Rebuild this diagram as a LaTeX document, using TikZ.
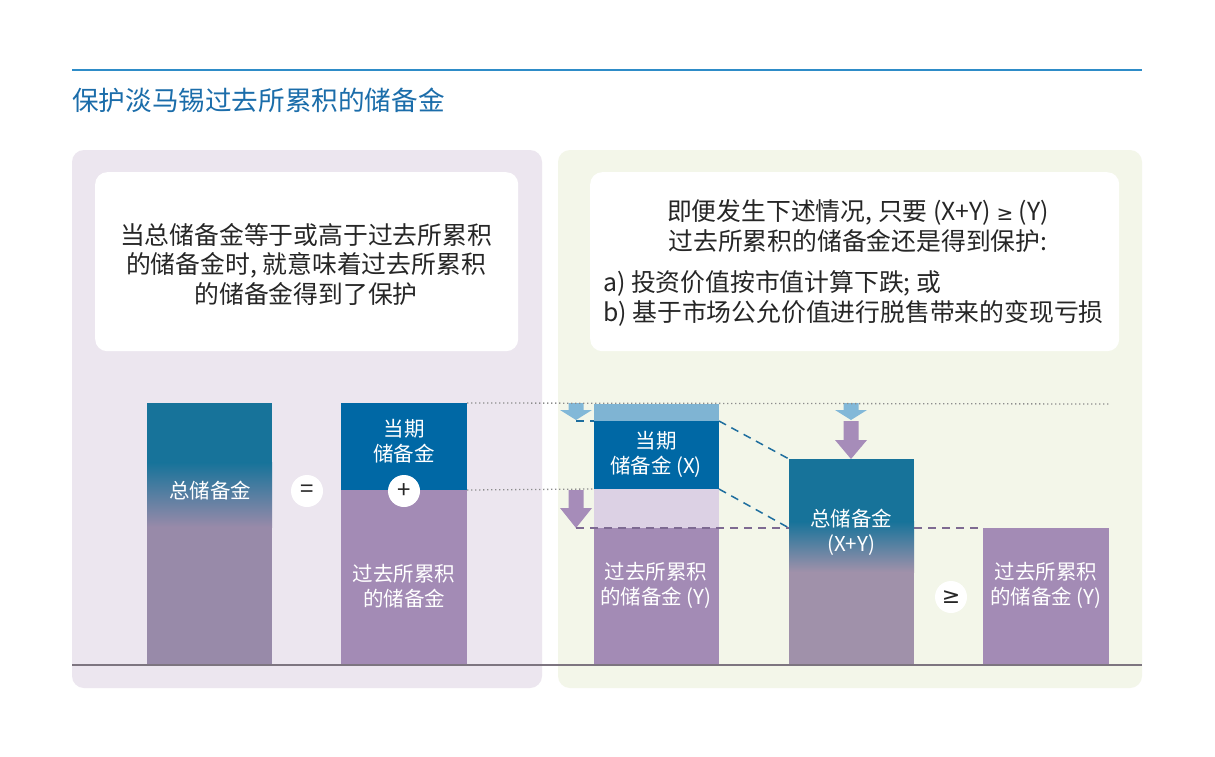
\documentclass[tikz,border=0pt]{standalone}
\usepackage{fontspec}
\setmainfont{Noto Sans CJK SC}
\newfontfamily\geqfont{DejaVu Sans}
\definecolor{leftpanel}{HTML}{ECE6EF}
\definecolor{rightpanel}{HTML}{F3F6E9}
\definecolor{barblue}{HTML}{0068A5}
\definecolor{tealc}{HTML}{17739A}
\definecolor{barpurple}{HTML}{A38BB5}
\definecolor{pgrayA}{HTML}{988AA9}
\definecolor{pgrayB}{HTML}{A091AA}
\definecolor{lightblue}{HTML}{7FB4D3}
\definecolor{lightpurple}{HTML}{DCD1E4}
\definecolor{arrowblue}{HTML}{82B8D8}
\definecolor{arrowpurple}{HTML}{A68CB9}
\definecolor{dashblue}{HTML}{1E6E9E}
\definecolor{dashpurple}{HTML}{7E6A92}
\definecolor{dotgray}{HTML}{8C8C8C}
\definecolor{titleblue}{HTML}{1B6DAA}
\definecolor{rulecol}{HTML}{2E8CC8}
\definecolor{basecol}{HTML}{7D7580}
\newcommand\blockarrowdraw[5]{%
  \fill[#5] (#1-7.5,#2) -- (#1+7.5,#2) -- (#1+7.5,#3) -- (#1+16,#3) -- (#1,#4)
    -- (#1-16,#3) -- (#1-7.5,#3) -- cycle;}
\begin{document}
\begin{tikzpicture}[x=1pt,y=-1pt,
  bar/.style={rectangle, inner sep=0pt, outer sep=0pt, draw=none, anchor=north west},
  tbox/.style={rectangle, fill=white, rounded corners=12pt, inner sep=0pt, anchor=north west},
  lbl/.style={text=white, font=\fontsize{20.5}{25}\selectfont, align=center, inner sep=0pt},
  boxtext/.style={text=black!85, font=\fontsize{24.8}{29.5}\selectfont, inner sep=0pt},
  circ/.style={circle, fill=white, minimum size=32pt, inner sep=0pt, text=black!85,
    font=\fontsize{24}{24}\selectfont},
  dotl/.style={draw=dotgray, line width=1.3pt, dash pattern=on 1.3pt off 2.7pt},
  dashb/.style={draw=dashblue, line width=1.5pt, dash pattern=on 8pt off 6pt},
  dashp/.style={draw=dashpurple, line width=1.8pt, dash pattern=on 8pt off 6pt}]
\useasboundingbox (0,0) rectangle (1215,757);
\fill[white] (0,0) rectangle (1215,757);

% title and rule
\draw[rulecol, line width=1.3pt] (72,70) -- (1142,70);
\node[anchor=west, inner sep=0pt, text=titleblue, font=\fontsize{26.6}{30}\selectfont] (title) at (72,100) {保护淡马锡过去所累积的储备金};

% panels
\fill[leftpanel, rounded corners=12pt] (72,150) rectangle (542,688);
\fill[rightpanel, rounded corners=12pt] (558,150) rectangle (1142,688);

% text boxes
\node[tbox, minimum width=423pt, minimum height=179pt] (lbox) at (95,172) {};
\node[tbox, minimum width=529pt, minimum height=179pt] (rbox) at (590,172) {};
\node[boxtext, align=center] (ltext) at (306,264) {当总储备金等于或高于过去所累积\\的储备金时, 就意味着过去所累积\\的储备金得到了保护};
\node[boxtext, align=center, font=\fontsize{24.8}{30}\selectfont] (rtextA) at (858,226) {即便发生下述情况, 只要 (X+Y) {\geqfont\fontsize{20}{20}\selectfont ≥} (Y)\\过去所累积的储备金还是得到保护:};
\node[boxtext, align=left, anchor=west, font=\fontsize{24.8}{30}\selectfont] (rtextB) at (603,298) {a) 投资价值按市值计算下跌; 或\\b) 基于市场公允价值进行脱售带来的变现亏损};

% bar 1 (total)
\node[bar, fill=pgrayA, minimum width=125pt, minimum height=262pt] (b1) at (147,403) {};
\fill[tealc] (147,403) rectangle (272,463);
\shade[top color=tealc, bottom color=pgrayA] (147,462.5) rectangle (272,527);
\node[lbl] (b1t) at (210,491) {总储备金};

% bar 2
\node[bar, fill=barblue, minimum width=126pt, minimum height=87pt] (b2a) at (341,403) {};
\node[bar, fill=barpurple, minimum width=126pt, minimum height=175pt] (b2b) at (341,490) {};
\node[lbl] (b2at) at (404,441) {当期\\储备金};
\node[lbl] (b2bt) at (404,586) {过去所累积\\的储备金};

% bar 3
\node[bar, fill=lightblue, minimum width=125pt, minimum height=17pt] (b3a) at (594,404) {};
\node[bar, fill=barblue, minimum width=125pt, minimum height=68pt] (b3b) at (594,421) {};
\node[bar, fill=lightpurple, minimum width=125pt, minimum height=39pt] (b3c) at (594,489) {};
\node[bar, fill=barpurple, minimum width=125pt, minimum height=137pt] (b3d) at (594,528) {};
\node[lbl] (b3bt) at (656,454) {当期\\储备金 (X)};
\node[lbl] (b3dt) at (656,585) {过去所累积\\的储备金 (Y)};

% bar 4 (total X+Y)
\node[bar, fill=pgrayB, minimum width=125pt, minimum height=206pt] (b4) at (789,459) {};
\fill[tealc] (789,459) rectangle (914,522);
\shade[top color=tealc, bottom color=pgrayB] (789,521.5) rectangle (914,572);
\node[lbl] (b4t) at (851,532) {总储备金\\(X+Y)};

% bar 5
\node[bar, fill=barpurple, minimum width=126pt, minimum height=137pt] (b5) at (983,528) {};
\node[lbl] (b5t) at (1046,585) {过去所累积\\的储备金 (Y)};

% baseline
\draw[basecol, line width=1.2pt] (72,665) -- (1142,665);

% operators
\node[circ] (eq) at (307,491) {=};
\node[circ] (plus) at (404,491) {+};
\node[circ, font=\geqfont\fontsize{22}{22}\selectfont] (geq) at (951,597) {≥};

% block arrows
\blockarrowdraw{576}{403}{410}{420}{arrowblue}
\blockarrowdraw{576}{490}{508}{528}{arrowpurple}
\blockarrowdraw{851}{403}{410}{420}{arrowblue}
\blockarrowdraw{851}{421}{440}{459}{arrowpurple}
\coordinate (tipA) at (576,421);
\coordinate (tipB) at (576,528);
\coordinate (dotend) at (1110,404);

% dotted guide lines
\draw[dotl] (b2a.north east) -- (dotend);
\draw[dotl] (b2a.south east) -- (b3c.north west);

% dashed guide lines
\draw[dashb] (tipA) -- (b3b.north west);
\draw[dashb] (b3b.north east) -- (b4.north west);
\draw[dashb] (b3b.south east) -- (b4.west |- b3d.north);
\draw[dashp] (tipB) -- (b4.west |- b3d.north);
\draw[dashp] (b4.east |- b5.north) -- (b5.north west);
\end{tikzpicture}
\end{document}
